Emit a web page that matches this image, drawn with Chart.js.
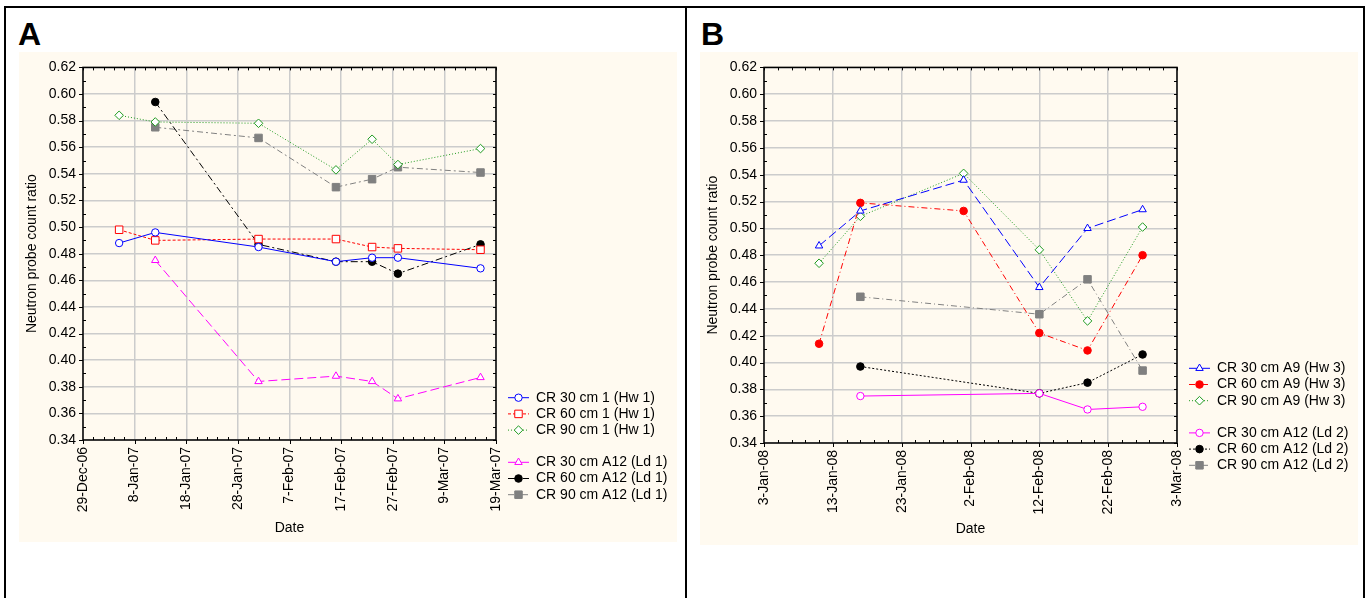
<!DOCTYPE html>
<html>
<head>
<meta charset="utf-8">
<script src="https://cdn.jsdelivr.net/npm/chart.js@4.4.1/dist/chart.umd.min.js"></script>
<style>
  body { margin: 0; width: 1368px; height: 598px; overflow: hidden; position: relative; background: #fff;
         font-family: "Liberation Sans", Arial, sans-serif; }
  .frame { position: absolute; left: 4px; top: 6px; width: 1361px; height: 600px; border: 2px solid #000; box-sizing: border-box; }
  .divider { position: absolute; left: 685px; top: 6px; width: 2px; height: 592px; background: #000; }
  .tag { position: absolute; font-weight: bold; font-size: 32px; line-height: 1; }
  canvas { position: absolute; background: #fffaf0; }
</style>
</head>
<body>
<div class="frame"></div>
<div class="divider"></div>
<div class="tag" style="left:18px; top:18px;">A</div>
<div class="tag" style="left:701px; top:18px;">B</div>
<canvas id="chartA" width="658" height="490" style="left:19px; top:52px;"></canvas>
<canvas id="chartB" width="658" height="493" style="left:700px; top:52px;"></canvas>
<script>
// ---- panel A (2007) ----
const startA = '2006-12-29';
const tickLabelsA = ['29-Dec-06', '8-Jan-07', '18-Jan-07', '28-Jan-07', '7-Feb-07', '17-Feb-07', '27-Feb-07', '9-Mar-07', '19-Mar-07'];
const datesHw1 = ['2007-01-05', '2007-01-12', '2007-02-01', '2007-02-16', '2007-02-23', '2007-02-28', '2007-03-16'];
const datesLd1 = ['2007-01-12', '2007-02-01', '2007-02-16', '2007-02-23', '2007-02-28', '2007-03-16'];
const cr30Hw1 = [0.488, 0.496, 0.485, 0.474, 0.477, 0.477, 0.469];
const cr60Hw1 = [0.498, 0.490, 0.491, 0.491, 0.485, 0.484, 0.483];
const cr90Hw1 = [0.584, 0.579, 0.578, 0.543, 0.566, 0.547, 0.559];
const cr30Ld1 = [0.475, 0.384, 0.388, 0.384, 0.371, 0.387];
const cr60Ld1 = [0.594, 0.487, 0.474, 0.474, 0.465, 0.487];
const cr90Ld1 = [0.575, 0.567, 0.530, 0.536, 0.545, 0.541];

// ---- panel B (2008) ----
const startB = '2008-01-03';
const tickLabelsB = ['3-Jan-08', '13-Jan-08', '23-Jan-08', '2-Feb-08', '12-Feb-08', '22-Feb-08', '3-Mar-08'];
const datesHw3 = ['2008-01-11', '2008-01-17', '2008-02-01', '2008-02-12', '2008-02-19', '2008-02-27'];
const datesLd2 = ['2008-01-17', '2008-02-12', '2008-02-19', '2008-02-27'];
const cr30Hw3 = [0.487, 0.513, 0.536, 0.456, 0.500, 0.514];
const cr60Hw3 = [0.414, 0.519, 0.513, 0.422, 0.409, 0.480];
const cr90Hw3 = [0.474, 0.509, 0.541, 0.484, 0.431, 0.501];
const cr30Ld2 = [0.375, 0.377, 0.365, 0.367];
const cr60Ld2 = [0.397, 0.377, 0.385, 0.406];
const cr90Ld2 = [0.449, 0.436, 0.462, 0.394];

const yMin = 0.34, yMax = 0.62;
const FONT = '"Liberation Sans", Arial, sans-serif';
const GREEN = '#1f9a1f';

function dayOf(start, d) {
    return (Date.parse(d) - Date.parse(start)) / 86400000;
}

// little ticks + black plot frame
const plotFrame = {
    id: 'plotFrame',
    afterDatasetsDraw(chart) {
        const { ctx, chartArea: a, scales: { x, y } } = chart;
        ctx.save();
        ctx.strokeStyle = '#000';
        ctx.lineWidth = 1;
        ctx.beginPath();
        for (let d = 0; d <= x.max + 0.001; d += 2) {
            const px = Math.round(x.getPixelForValue(d)) + 0.5;
            const major = d % 10 === 0;
            ctx.moveTo(px, a.bottom);
            ctx.lineTo(px, major ? a.bottom + 4 : a.bottom - 3);
            ctx.moveTo(px, a.top);
            ctx.lineTo(px, a.top + 3);
        }
        const steps = Math.round((y.max - y.min) / 0.01);
        for (let k = 0; k <= steps; k++) {
            const py = Math.round(y.getPixelForValue(y.min + k * 0.01)) + 0.5;
            const major = k % 2 === 0;
            ctx.moveTo(a.left, py);
            ctx.lineTo(major ? a.left - 4 : a.left + 3, py);
            ctx.moveTo(a.right, py);
            ctx.lineTo(a.right - 3, py);
        }
        ctx.stroke();
        ctx.lineWidth = 1.5;
        ctx.strokeRect(a.left, a.top, a.width, a.height);
        ctx.restore();
    }
};

// legend with line sample + marker, drawn at the right of the plot
const seriesLegend = {
    id: 'seriesLegend',
    afterDraw(chart, args, opts) {
        const { ctx, chartArea: a } = chart;
        const x0 = a.right + 12, x1 = a.right + 33;
        ctx.save();
        chart.data.datasets.forEach((ds, i) => {
            const yy = opts.top + i * 16.2 + (i >= 3 ? 16 : 0);
            ctx.strokeStyle = ds.borderColor;
            ctx.lineWidth = 1;
            ctx.setLineDash(ds.borderDash || []);
            ctx.beginPath();
            ctx.moveTo(x0, yy);
            ctx.lineTo(x1, yy);
            ctx.stroke();
            ctx.setLineDash([]);
            ctx.fillStyle = ds.pointBackgroundColor;
            ctx.strokeStyle = ds.pointBorderColor;
            Chart.helpers.drawPoint(ctx, {
                pointStyle: ds.pointStyle, rotation: 0,
                radius: ds.pointRadius, borderWidth: 1
            }, (x0 + x1) / 2, yy);
            ctx.fillStyle = '#000';
            ctx.font = '14px ' + FONT;
            ctx.textBaseline = 'middle';
            ctx.fillText(ds.label, x1 + 7, yy);
        });
        ctx.restore();
    }
};

function makeChart(id, start, tickLabels, series, legendTop, titlePad) {
    const datasets = series.map(s => ({
        label: s.label,
        data: s.dates.map((d, i) => ({ x: dayOf(start, d), y: s.values[i] })),
        borderColor: s.color,
        borderWidth: 1,
        borderDash: s.dash,
        pointStyle: s.style,
        pointRadius: s.r,
        pointHoverRadius: s.r,
        pointBorderWidth: 1,
        pointBorderColor: s.color,
        pointBackgroundColor: s.filled ? s.color : '#ffffff',
        tension: 0,
        fill: false
    }));

    return new Chart(document.getElementById(id), {
        type: 'line',
        data: { datasets },
        options: {
            responsive: false,
            animation: false,
            layout: { padding: { left: 0, top: 15, right: 181, bottom: 0 } },
            plugins: {
                legend: { display: false },
                tooltip: { enabled: false },
                seriesLegend: { top: legendTop }
            },
            scales: {
                x: {
                    type: 'linear',
                    min: 0,
                    max: (tickLabels.length - 1) * 10,
                    grid: { color: '#cccccc', lineWidth: 1.5, drawTicks: false },
                    border: { display: false },
                    ticks: {
                        stepSize: 10,
                        autoSkip: false,
                        minRotation: 90,
                        maxRotation: 90,
                        padding: 7,
                        color: '#000',
                        font: { size: 14, family: FONT },
                        callback: (v, i) => tickLabels[i]
                    },
                    title: {
                        display: true, text: 'Date', color: '#000',
                        font: { size: 14, family: FONT },
                        padding: { top: 0, bottom: titlePad }
                    },
                    afterFit: sc => { sc.height = 102; }
                },
                y: {
                    min: yMin,
                    max: yMax,
                    grid: { color: '#cccccc', lineWidth: 1.5, drawTicks: false },
                    border: { display: false },
                    ticks: {
                        stepSize: 0.02,
                        padding: 7,
                        color: '#000',
                        font: { size: 14, family: FONT },
                        callback: v => v.toFixed(2)
                    },
                    title: {
                        display: true, text: 'Neutron probe count ratio', color: '#000',
                        font: { size: 14, family: FONT },
                        padding: { top: 5, bottom: 0 }
                    },
                    afterFit: sc => { sc.width = 64; }
                }
            }
        },
        plugins: [plotFrame, seriesLegend]
    });
}

makeChart('chartA', startA, tickLabelsA, [
    { label: 'CR 30 cm 1 (Hw 1)', dates: datesHw1, values: cr30Hw1, color: '#0000ff', dash: [], style: 'circle', r: 3.7, filled: false },
    { label: 'CR 60 cm 1 (Hw 1)', dates: datesHw1, values: cr60Hw1, color: '#ff0000', dash: [3, 2], style: 'rect', r: 5.3, filled: false },
    { label: 'CR 90 cm 1 (Hw 1)', dates: datesHw1, values: cr90Hw1, color: GREEN, dash: [1, 2], style: 'rectRot', r: 4.3, filled: false },
    { label: 'CR 30 cm A12 (Ld 1)', dates: datesLd1, values: cr30Ld1, color: '#ff00ff', dash: [9, 4], style: 'triangle', r: 4.3, filled: false },
    { label: 'CR 60 cm A12 (Ld 1)', dates: datesLd1, values: cr60Ld1, color: '#000000', dash: [7, 3, 2, 3], style: 'circle', r: 3.8, filled: true },
    { label: 'CR 90 cm A12 (Ld 1)', dates: datesLd1, values: cr90Ld1, color: '#808080', dash: [6, 3, 2, 3], style: 'rect', r: 5.3, filled: true }
], 345.7, 5);

makeChart('chartB', startB, tickLabelsB, [
    { label: 'CR 30 cm A9 (Hw 3)', dates: datesHw3, values: cr30Hw3, color: '#0000ff', dash: [9, 4], style: 'triangle', r: 4.3, filled: false },
    { label: 'CR 60 cm A9 (Hw 3)', dates: datesHw3, values: cr60Hw3, color: '#ff0000', dash: [6, 3, 1, 3], style: 'circle', r: 3.8, filled: true },
    { label: 'CR 90 cm A9 (Hw 3)', dates: datesHw3, values: cr90Hw3, color: GREEN, dash: [1, 2], style: 'rectRot', r: 4.3, filled: false },
    { label: 'CR 30 cm A12 (Ld 2)', dates: datesLd2, values: cr30Ld2, color: '#ff00ff', dash: [], style: 'circle', r: 3.7, filled: false },
    { label: 'CR 60 cm A12 (Ld 2)', dates: datesLd2, values: cr60Ld2, color: '#000000', dash: [2, 2], style: 'circle', r: 3.8, filled: true },
    { label: 'CR 90 cm A12 (Ld 2)', dates: datesLd2, values: cr90Ld2, color: '#808080', dash: [6, 3, 1, 3], style: 'rect', r: 5.3, filled: true }
], 316.3, 7);
</script>
</body>
</html>
